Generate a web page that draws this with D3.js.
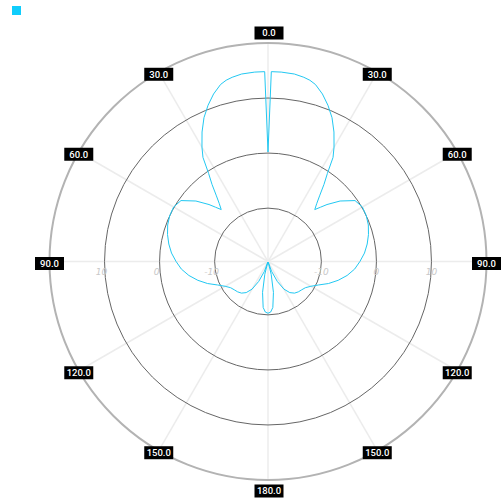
<!DOCTYPE html>
<html><head><meta charset="utf-8">
<script src="https://cdn.jsdelivr.net/npm/d3@7"></script>
<style>body{margin:0;background:#fff} svg{display:block}</style>
</head><body><svg id="c" width="502" height="500"></svg>
<script>
// Pattern samples: angle in degrees (clockwise from top) and gain in dB
const angles = [0,1,4,8,11,13,15,18,21,24,27,30,32,34,36,38,40,42,44,46,50,55,60,65,70,75,80,85,90,95,100,105,110,115,120,125,130,135,140,145,150,155,160,163,166,170,174,177,180,
  183,186,190,194,197,200,205,210,215,220,225,230,235,240,245,250,255,260,265,270,275,280,285,290,295,300,305,310,314,316,318,320,322,324,326,328,330,333,336,339,342,345,347,349,352,356,359];
const gainDb = [0.2,14.8,14.8,14.7,14.4,14.1,13.6,12.3,10.7,8.9,6.7,4.3,2.6,-0.4,-2.4,-4.4,-5.9,-7.0,-6.0,-4.8,-2.6,-0.4,0.1,0.0,-0.3,-0.8,-1.4,-2.1,-3.0,-3.9,-5.1,-6.5,-8.0,-9.6,-10.7,-11.4,-11.7,-11.9,-12.2,-12.8,-13.9,-15.7,-17.8,-19.6,-17.3,-14.0,-11.3,-10.5,-10.3,
  -10.5,-11.3,-14.0,-17.3,-19.6,-17.8,-15.7,-13.9,-12.8,-12.2,-11.9,-11.7,-11.4,-10.7,-9.6,-8.0,-6.5,-5.1,-3.9,-3.0,-2.1,-1.4,-0.8,-0.3,0.0,0.1,-0.4,-2.6,-4.8,-6.0,-7.0,-5.9,-4.4,-2.4,-0.4,2.6,4.3,6.7,8.9,10.7,12.3,13.6,14.1,14.4,14.7,14.8,14.8];
const angleTicks = [0,30,60,90,120,150,180,210,240,270,300,330];
const angleTickLabels = ["0.0","30.0","60.0","90.0","120.0","150.0","180.0","150.0","120.0","90.0","60.0","30.0"];
const radialTicks = [-10,0,10];
const radialTickLabels = ["-10","0","10"];
const radialMax = 20;
const seriesColor = "#22c8f2";

const svg = d3.select("#c");
const cx = 268, cy = 261.5, R = 218.5;
const r = d3.scaleLinear().domain([-19.7, radialMax]).range([0, R]);
const ang = d3.scaleLinear().domain([0, 360]).range([0, 2 * Math.PI]);

const g = svg.append("g").attr("transform", `translate(${cx},${cy})`);

// spokes
g.selectAll("line.spoke").data(angleTicks).join("line")
  .attr("class", "spoke")
  .attr("x1", 0).attr("y1", 0)
  .attr("x2", d => R * Math.sin(ang(d)))
  .attr("y2", d => -R * Math.cos(ang(d)))
  .attr("stroke", "#ececec").attr("stroke-width", 1.5);

// inner rings
g.selectAll("circle.ring").data(radialTicks).join("circle")
  .attr("class", "ring")
  .attr("r", d => r(d))
  .attr("fill", "none").attr("stroke", "#666").attr("stroke-width", 1);

// outer ring
g.append("circle").attr("r", r(radialMax))
  .attr("fill", "none").attr("stroke", "#b3b3b3").attr("stroke-width", 2);

// radial tick labels
const rl = g.append("g").attr("font-family", "DejaVu Sans, sans-serif")
  .attr("font-size", 9).attr("font-style", "italic").attr("fill", "#c8c8c8")
  .attr("text-anchor", "middle");
radialTicks.forEach((v, i) => {
  rl.append("text").attr("x", -r(v) - 3).attr("y", 13).text(radialTickLabels[i]);
  rl.append("text").attr("x", r(v)).attr("y", 13).text(radialTickLabels[i]);
});

// pattern
const pts = angles.map((a, i) => ({a, v: gainDb[i]}));
const line = d3.lineRadial().angle(d => ang(d.a)).radius(d => r(d.v)).curve(d3.curveLinearClosed);
g.append("path").datum(pts).attr("d", line)
  .attr("fill", "none").attr("stroke", seriesColor).attr("stroke-width", 1)
  .attr("stroke-linejoin", "round");

// angle labels
const al = g.selectAll("g.alab").data(angleTicks).join("g")
  .attr("class", "alab")
  .attr("transform", d => {
    const x = R * Math.sin(ang(d)) + (d === 0 || d === 180 ? 1 : 0);
    let y = -R * Math.cos(ang(d));
    if (d === 0) y -= 10; else if (d === 180) y += 11; else y += 2;
    return `translate(${x},${y})`;
  });
al.append("rect").attr("x", -14.5).attr("y", -6.5).attr("width", 29).attr("height", 13).attr("fill", "#000");
al.append("text").attr("text-anchor", "middle").attr("dy", "0.35em")
  .attr("font-family", "Roboto, sans-serif").attr("font-weight", 500).attr("font-size", 9.5)
  .attr("fill", "#fff").text((d, i) => angleTickLabels[i]);

// legend marker
svg.append("rect").attr("x", 12).attr("y", 6).attr("width", 9).attr("height", 9).attr("fill", "#10cdfc");
</script></body></html>
